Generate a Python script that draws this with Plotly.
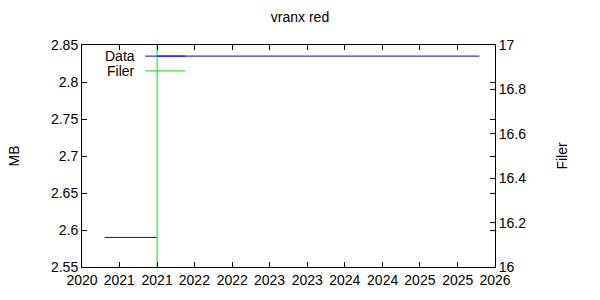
import plotly.graph_objects as go

# Data
data_dates = ["2020-12-20", "2021-09-01", None, "2021-09-01", "2025-12-15"]
data_mb = [2.59, 2.59, None, 2.835, 2.835]
filer_dates = ["2021-09-01"]
filer_counts = [17]

title_text = "vranx red"
x_range = ["2020-09-01", "2026-03-01"]
y_range = [2.55, 2.85]
y2_range = [16, 17]

BLUE = "#0000ff"
GREEN = "#00e000"
FONT = "Liberation Sans, Arial, sans-serif"

fig = go.Figure()

fig.add_trace(go.Scatter(
    x=data_dates, y=data_mb, mode="lines", line=dict(color=BLUE, width=1),
    connectgaps=False, name="Data", showlegend=False, yaxis="y"))

# impulses for Filer
fx, fy = [], []
for d, c in zip(filer_dates, filer_counts):
    fx += [d, d, None]
    fy += [y2_range[0], c, None]
fig.add_trace(go.Scatter(
    x=fx, y=fy, mode="lines", line=dict(color=GREEN, width=1),
    name="Filer", showlegend=False, yaxis="y2"))

# manual gnuplot-style legend
legend_items = [("Data", BLUE, 0.95), ("Filer", GREEN, 0.8833)]
for name, col, yp in legend_items:
    fig.add_annotation(text=name, xref="paper", yref="paper", x=0.133, y=yp,
                       xanchor="right", yanchor="middle", showarrow=False,
                       font=dict(family=FONT, size=14, color="black"))
    fig.add_shape(type="line", xref="paper", yref="paper", x0=0.153, x1=0.250,
                  y0=yp, y1=yp, line=dict(color=col, width=1))

axis_common = dict(showgrid=False, zeroline=False, showline=True, linecolor="black",
                   linewidth=1, ticks="inside", ticklen=5, tickcolor="black",
                   tickfont=dict(family=FONT, size=14, color="black"))

fig.update_layout(
    width=600, height=300,
    margin=dict(l=82, r=105, t=45, b=31),
    plot_bgcolor="white", paper_bgcolor="white",
    title=dict(text=title_text, x=0.5, xref="container", xanchor="center",
               y=0.943, yref="container", yanchor="middle",
               font=dict(family=FONT, size=14, color="black")),
    xaxis=dict(type="date", range=x_range, tick0="2020-09-01", dtick="M6",
               tickformat="%Y", mirror="ticks", **axis_common),
    yaxis=dict(range=y_range, dtick=0.05, mirror="ticks",
               title=dict(text="MB", standoff=28,
                          font=dict(family=FONT, size=14, color="black")),
               **axis_common),
    yaxis2=dict(range=y2_range, dtick=0.2, overlaying="y", side="right",
                title=dict(text="Filer", standoff=31,
                           font=dict(family=FONT, size=14, color="black")),
                **axis_common),
)

fig.write_html("out.html")
